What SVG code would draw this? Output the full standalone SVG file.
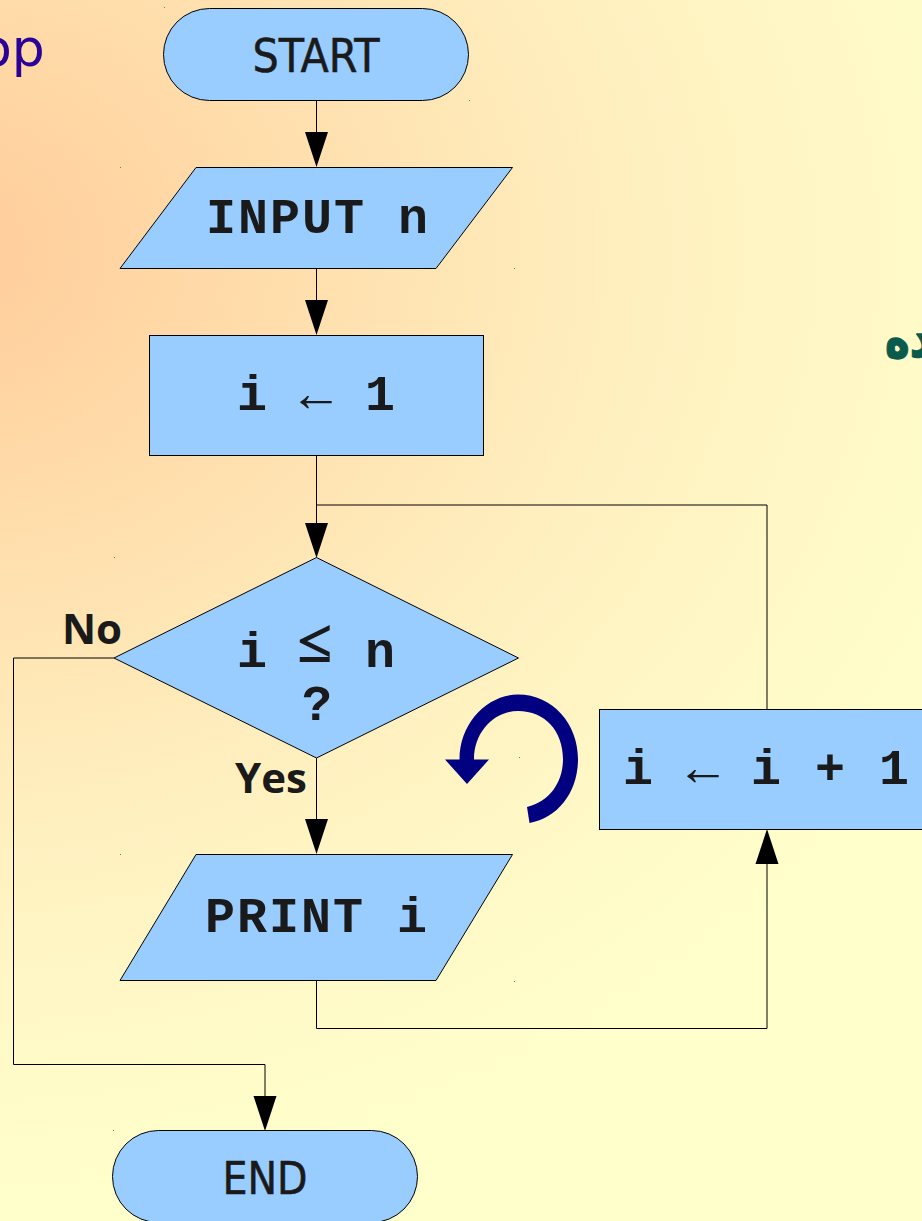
<svg xmlns="http://www.w3.org/2000/svg" width="922" height="1221" viewBox="0 0 922 1221">
<style>
.s{fill:#99ccff;stroke:#000;stroke-width:1}
.c{fill:none;stroke:#000;stroke-width:1}
.m{font-family:"Liberation Mono",monospace;font-weight:700;font-size:50px;letter-spacing:2px;fill:#1a1a1a;text-anchor:middle}
.r{font-family:"Liberation Serif",serif;font-size:53px;fill:#1a1a1a;text-anchor:middle}
.n{font-family:"DejaVu Sans Condensed","DejaVu Sans",sans-serif;font-size:46px;fill:#1a1a1a;stroke:#1a1a1a;stroke-width:.5px;text-anchor:middle}
.b{font-family:"Open Sans","Noto Sans",sans-serif;font-weight:700;font-size:42px;fill:#1a1a1a;text-anchor:middle}
.a{fill:#000}
</style>
<defs>
<radialGradient id="bg" gradientUnits="userSpaceOnUse" cx="0" cy="0" r="1" gradientTransform="translate(-60 250) scale(1150 950)">
<stop offset="0" stop-color="#ffcc99"/>
<stop offset="0.27" stop-color="#ffdcaa"/>
<stop offset="0.6" stop-color="#ffefbf"/>
<stop offset="0.8" stop-color="#fff8c6"/>
<stop offset="1" stop-color="#ffffcc"/>
</radialGradient>
</defs>
<rect id="background" width="922" height="1221" fill="url(#bg)"/>
<text id="title-fragment" x="-20" y="66" font-family="DejaVu Sans,sans-serif" font-size="52" fill="#2a0099">op</text>
<text id="arabic-fragment" transform="translate(885 357) scale(1 1.3)" x="0" y="0" font-family="DejaVu Sans,sans-serif" font-weight="700" font-size="42" fill="#0b5a4e" stroke="#0b5a4e" stroke-width="1" stroke-linejoin="round">ده</text>
<g id="connectors">
<path class="c" d="M316.500 101V136M316.500 269V304M316.500 456V526M316.500 505H767V710M316.500 758V822M316.500 981V1028.500H767V862M114 658H13.500V1064.500H265V1098"/>
<path class="a" d="M305 132H328L316.500 167ZM305 300H328L316.500 335ZM305 523H328L316.500 558ZM305 819H328L316.500 854ZM755.500 864H778.500L767 829ZM253.500 1096H276.500L265 1131Z"/>
</g>
<g id="start"><rect class="s" x="163.500" y="8.500" width="305" height="92" rx="46" ry="46"/><text class="n" x="316" y="72">START</text></g>
<g id="input"><polygon class="s" points="196,167.500 512.500,167.500 436,268.500 120,268.500"/><text class="m" x="318" y="233">INPUT n</text></g>
<g id="init"><rect class="s" x="149.500" y="335.500" width="334" height="120"/><text class="m" x="253" y="410">i</text><text class="r" x="316" y="411">←</text><text class="m" x="381" y="410">1</text></g>
<g id="decision"><polygon class="s" points="316.500,557.500 518.500,658 316.500,758 114,658"/><text class="m" x="253" y="667">i</text><text class="r" x="315" y="661" style="font-size:60px;stroke:#1a1a1a;stroke-width:2px">≤</text><text class="m" x="381" y="667">n</text><text class="m" x="318" y="720">?</text></g>
<g id="label-no"><text class="b" x="92" y="644">No</text></g>
<g id="label-yes"><text class="b" x="271" y="793">Yes</text></g>
<g id="print"><polygon class="s" points="196,854.500 512.500,854.500 436,980.500 120,980.500"/><text class="m" x="317" y="932">PRINT i</text></g>
<g id="increment"><rect class="s" x="599.500" y="709.500" width="340" height="120"/><text class="m" x="639" y="784">i</text><text class="r" x="703" y="785">←</text><text class="m" x="767" y="784">i</text><text class="m" x="831" y="784">+</text><text class="m" x="895" y="784">1</text></g>
<g id="end"><rect class="s" x="112.500" y="1130.500" width="305" height="92" rx="46" ry="46"/><text class="n" x="265" y="1194" style="font-size:44px">END</text></g>
<g id="loop-arrow"><path fill="#000080" d="M529.500 823L527 807C551 801 563 781 563 759C563 731 545 711 518 711C495 711 474 731 474 759.500H489L467 784L445 759.500H459.500C459.500 722 488 694.500 518 694.500C553 694.500 578 724 578 759C578 792 558 818 529.500 823Z"/></g>
<g id="specks" fill="#777"><rect x="164" y="7" width="1" height="1"/><rect x="469" y="100" width="1" height="1"/><rect x="120" y="167" width="1" height="1"/><rect x="514" y="268" width="1" height="1"/><rect x="114" y="557" width="1" height="1"/><rect x="519" y="757" width="1" height="1"/><rect x="120" y="854" width="1" height="1"/><rect x="514" y="981" width="1" height="1"/><rect x="113" y="1130" width="1" height="1"/></g>
</svg>
